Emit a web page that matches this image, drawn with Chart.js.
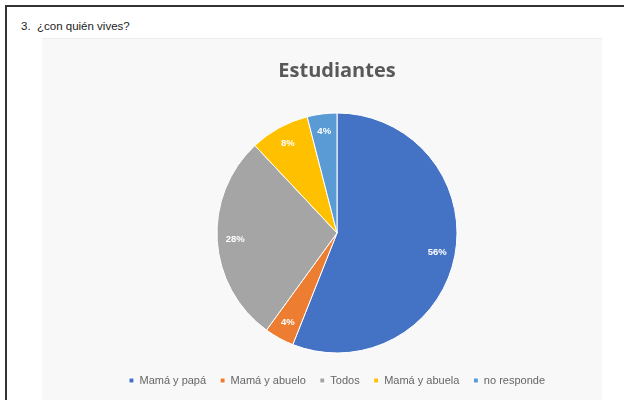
<!DOCTYPE html>
<html>
<head>
<meta charset="utf-8">
<script src="https://cdn.jsdelivr.net/npm/chart.js@4.4.0/dist/chart.umd.min.js"></script>
<style>
  html, body { margin: 0; padding: 0; background: #ffffff; }
  #marco {
    position: absolute; left: 5px; top: 5px; width: 630px; height: 400px;
    border-top: 2px solid #333; border-left: 2px solid #333;
  }
  #pregunta {
    position: absolute; left: 21px; top: 20px;
    font-family: "Liberation Sans", Arial, sans-serif; font-size: 11.5px; color: #222;
  }
  #pregunta span { display: inline-block; width: 16px; }
  #caja {
    position: absolute; left: 42px; top: 38px; width: 560px; height: 362px;
    background: #f8f8f8; border-top: 1px solid #ececec;
  }
</style>
</head>
<body>
<div id="marco"></div>
<div id="pregunta"><span>3.</span>¿con quién vives?</div>
<div id="caja"><canvas id="GraficoEstudiantes"></canvas></div>
<script>
const categorias = ["Mamá y papá", "Mamá y abuelo", "Todos", "Mamá y abuela", "no responde"];
const porcentajes = [56, 4, 28, 8, 4];
const colores = ["#4472C4", "#ED7D31", "#A5A5A5", "#FFC000", "#5B9BD5"];

// etiquetas de porcentaje dentro de cada rebanada
const etiquetasPie = {
  id: "etiquetasPie",
  afterDatasetsDraw(chart) {
    const ctx = chart.ctx;
    const meta = chart.getDatasetMeta(0);
    ctx.save();
    ctx.font = "bold 9.5px 'Liberation Sans', Arial, sans-serif";
    ctx.fillStyle = "#ffffff";
    ctx.textAlign = "center";
    ctx.textBaseline = "middle";
    meta.data.forEach((arco, i) => {
      const medio = (arco.startAngle + arco.endAngle) / 2;
      const r = arco.outerRadius * 0.85;
      ctx.fillText(porcentajes[i] + "%", arco.x + Math.cos(medio) * r, arco.y + Math.sin(medio) * r);
    });
    ctx.restore();
  }
};

new Chart(document.getElementById("GraficoEstudiantes"), {
  type: "pie",
  data: {
    labels: categorias,
    datasets: [
      {
        data: porcentajes,
        backgroundColor: colores,
        borderColor: "#ffffff",
        borderWidth: 1,
        radius: 120,
      }
    ],
  },
  options: {
    responsive: true,
    maintainAspectRatio: false,
    animation: false,
    layout: { padding: { left: 30, bottom: 5 } },
    plugins: {
      title: {
        display: true,
        text: "Estudiantes",
        color: "#595959",
        font: { family: "'Open Sans', sans-serif", size: 20, weight: "bold" },
        padding: { top: 20, bottom: 22 },
      },
      legend: {
        position: "bottom",
        labels: {
          color: "#666666",
          boxWidth: 5,
          boxHeight: 5,
          padding: 14,
          font: { family: "'Liberation Sans', Arial, sans-serif", size: 11 },
        },
      },
      tooltip: { enabled: false },
    },
  },
  plugins: [etiquetasPie],
});
</script>
</body>
</html>
